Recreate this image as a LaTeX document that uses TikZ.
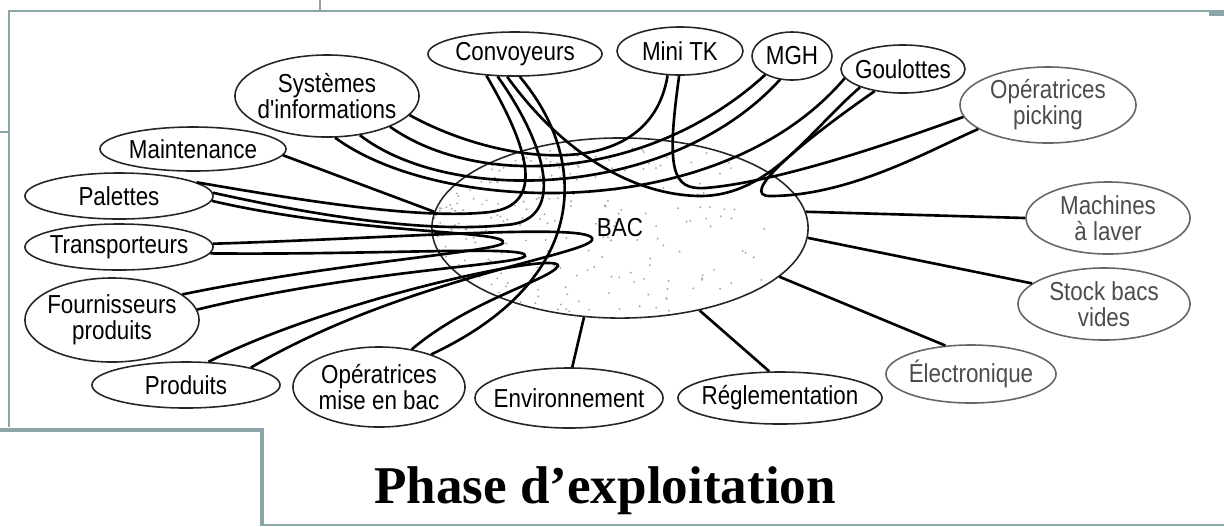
\documentclass[tikz,border=0pt]{standalone}
\usepackage{fontspec}
\setmainfont{Liberation Serif}
\newfontfamily\labelfont[FakeStretch=0.86]{Liberation Sans}
\usetikzlibrary{shapes.geometric}
\definecolor{framecol}{RGB}{139,164,167}

\begin{document}
\begin{tikzpicture}[x=0.01cm, y=-0.01cm,
  lbl/.style={font=\labelfont\fontsize{7.4pt}{7.4pt}\selectfont},
  ell/.style={lbl, ellipse, draw=black!85, line width=0.45pt, inner sep=-1cm, align=center},
  pale/.style={draw=black!60, text=black!70},
  link/.style={line width=0.75pt, black},
  frame/.style={draw=framecol, line width=0.75pt}]
\useasboundingbox (0,0) rectangle (1224,526);

% page frame
\draw[frame] (320,0) -- (320,11);
\draw[frame] (9,427) -- (9,11) -- (1224,11);
\fill[framecol] (1209,11) rectangle (1224,16);
\draw[frame] (0,132) -- (9,132);
\draw[frame, line width=1.2pt] (0,430) -- (262,430) -- (262,526);
\draw[frame] (262,525) -- (1224,525);

% stippled body of the central ellipse, denser on the left
\begin{scope}
  \clip (620,228) ellipse [x radius=188, y radius=90];
  \pgfmathsetseed{7}
  \foreach \k in {1,...,380}{
    \pgfmathsetmacro\dotu{rnd}
    \pgfmathsetmacro\dotv{rnd}
    \fill[black!35] ({432+340*\dotu^2},{138+180*\dotv}) circle [radius=0.3pt];
  }
\end{scope}
\node[ell, minimum width=3.76cm, minimum height=1.8cm] (bac) at (620,228) {BAC};

% surrounding items
\node[ell, minimum width=1.84cm, minimum height=0.82cm] (sys) at (327,96) {Systèmes\\d'informations};
\node[ell, minimum width=1.86cm, minimum height=0.44cm] (maint) at (193,149) {Maintenance};
\node[ell, minimum width=1.88cm, minimum height=0.46cm] (pal) at (119,196) {Palettes};
\node[ell, minimum width=1.88cm, minimum height=0.46cm] (trans) at (119,247) {Transporteurs};
\node[ell, minimum width=1.74cm, minimum height=0.84cm] (four) at (112,320) {Fournisseurs\\produits};
\node[ell, minimum width=1.88cm, minimum height=0.46cm] (prod) at (186,385) {Produits};
\node[ell, minimum width=1.72cm, minimum height=0.80cm] (opm) at (379,387) {Opératrices\\mise en bac};
\node[ell, minimum width=1.88cm, minimum height=0.60cm] (env) at (569,398) {Environnement};
\node[ell, minimum width=2.04cm, minimum height=0.52cm] (regl) at (780,398) {Réglementation};
\node[ell, pale, minimum width=1.70cm, minimum height=0.58cm] (elec) at (971,374) {Électronique};
\node[ell, pale, minimum width=1.72cm, minimum height=0.72cm] (stock) at (1104,304) {Stock bacs\\vides};
\node[ell, pale, minimum width=1.64cm, minimum height=0.72cm] (mach) at (1108,218) {Machines\\à laver};
\node[ell, pale, minimum width=1.76cm, minimum height=0.76cm] (opp) at (1048,105) {Opératrices\\picking};
\node[ell, minimum width=1.24cm, minimum height=0.48cm] (goul) at (903,69) {Goulottes};
\node[ell, minimum width=0.80cm, minimum height=0.48cm] (mgh) at (792,56) {MGH};
\node[ell, minimum width=1.26cm, minimum height=0.48cm] (minitk) at (680,51) {Mini TK};
\node[ell, minimum width=1.74cm, minimum height=0.44cm] (conv) at (515,54) {Convoyeurs};

% turning points of the looping links
\coordinate (hookA) at (705,188);
\coordinate (hookB) at (770,196);
\coordinate (sagC) at (700,196);
\coordinate (uA) at (490,212);
\coordinate (uB) at (505,225);
\coordinate (tipA) at (592,240);
\coordinate (tipB) at (525,256);
\coordinate (tipC) at (503,243);
\coordinate (tipD) at (558,266);

% looping links through the centre
\draw[link] (sys.-13) .. controls (500,165) and (650,185) .. (minitk.243);
\draw[link] (sys.-26) .. controls (480,190) and (650,180) .. (mgh.215);
\draw[link] (sys.-50) .. controls (450,205) and (670,200) .. (mgh.243);
\draw[link] (sys.-79) .. controls (440,215) and (720,225) .. (goul.189);
\draw[link] (conv.251) .. controls (560,150) and (630,195) .. (sagC) .. controls (770,196) and (810,130) .. (goul.203);
\draw[link] (goul.218) .. controls (790,150) and (740,196) .. (hookB) .. controls (850,196) and (930,150) .. (opp.199);
\draw[link] (minitk.268) .. controls (666,170) and (672,190) .. (hookA) .. controls (780,182) and (900,140) .. (opp.188);
\draw[link] (conv.217) .. controls (530,150) and (545,205) .. (uA) .. controls (420,220) and (300,200) .. (pal.10);
\draw[link] (conv.232) .. controls (550,150) and (565,222) .. (uB) .. controls (420,234) and (300,212) .. (pal.2);
\draw[link] (conv.282) .. controls (590,160) and (590,280) .. (opm.32);
\draw[link] (trans.2) .. controls (400,238) and (600,222) .. (tipA) .. controls (585,255) and (400,280) .. (prod.15);
\draw[link] (trans.-4) .. controls (380,255) and (530,245) .. (tipB) .. controls (520,265) and (360,270) .. (four.7);
\draw[link] (pal.-3) .. controls (360,235) and (510,230) .. (tipC) .. controls (495,252) and (340,262) .. (four.20);
\draw[link] (prod.46) .. controls (330,300) and (560,250) .. (tipD) .. controls (550,280) and (470,300) .. (opm.49);
\draw[link] (maint.-4) -- (bac.175);

% straight links on the right
\draw[link] (bac.5) -- (mach.180);
\draw[link] (bac.-3) -- (stock.164);
\draw[link] (bac.-17) -- (elec.132);
\draw[link] (bac.-46) -- (regl.112);
\draw[link] (bac.-112) -- (env.84);

% caption
\node[font=\bfseries\fontsize{15.1pt}{18pt}\selectfont, anchor=base] (title) at (605,503) {Phase d’exploitation};
\end{tikzpicture}
\end{document}
